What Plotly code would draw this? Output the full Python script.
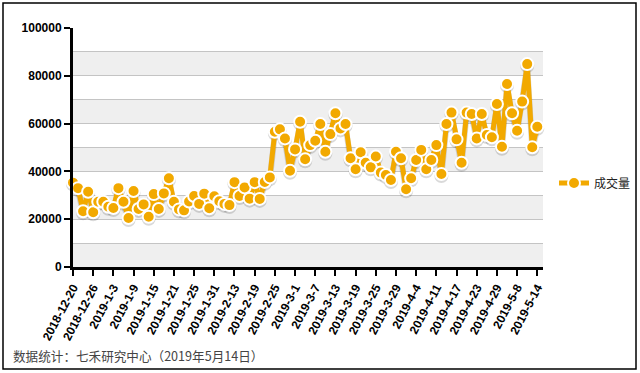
import plotly.graph_objects as go

# ---- data ----
dates = (
    ["2018-12-20", "2018-12-21", "2018-12-24", "2018-12-25", "2018-12-26", "2018-12-27", "2018-12-28"]
    + ["2019-1-%d" % d for d in [2, 3, 4, 7, 8, 9, 10, 11, 14, 15, 16, 17, 18, 21, 22, 23, 24, 25, 28, 29, 30, 31]]
    + ["2019-2-%d" % d for d in [1, 11, 12, 13, 14, 15, 18, 19, 20, 21, 22, 25, 26, 27, 28]]
    + ["2019-3-%d" % d for d in [1, 4, 5, 6, 7, 8, 11, 12, 13, 14, 15, 18, 19, 20, 21, 22, 25, 26, 27, 28, 29]]
    + ["2019-4-%d" % d for d in [1, 2, 3, 4, 8, 9, 10, 11, 12, 15, 16, 17, 18, 19, 22, 23, 24, 25, 26, 29, 30]]
    + ["2019-5-%d" % d for d in [6, 7, 8, 9, 10, 13, 14]]
)

volume = [
    35300, 33000, 23300, 31500, 22900, 27300, 27300, 25200, 24700, 33000,
    27300, 20500, 31800, 24300, 26200, 21000, 30500, 24300, 30800, 37100,
    27300, 24100, 23700, 27400, 29700, 26400, 30700, 24600, 29600, 27500,
    26400, 25900, 35500, 29700, 33300, 28600, 35500, 28500, 35600, 37500,
    56600, 57600, 53800, 40300, 49200, 60800, 45100, 51000, 52800, 59800,
    48200, 55600, 64300, 58000, 59800, 45500, 40900, 48000, 43600, 41700,
    46200, 39500, 38500, 36400, 48200, 45500, 32500, 37100, 44800, 49000,
    40900, 44800, 51000, 38900, 59800, 64600, 53400, 43600, 64600, 64000,
    53800, 64000, 55200, 54300, 68200, 50300, 76600, 64300, 57000, 69200,
    84900, 50100, 58700,
]

tick_labels = dates[::4]
series_name = "成交量"
footer = "数据统计：七禾研究中心（2019年5月14日）"

y_max = 100000
band_step = 10000

# ---- figure ----
W, H = 640, 373
L, R, T, B = 73, 97, 28, 106
pw, ph = W - L - R, H - T - B

def px_x(p):
    return (p - L) / pw

def px_y(p):
    return (H - B - p) / ph

ORANGE = "#F2A900"
shadow_dy = 2.0 * y_max / ph  # ~2 px drop shadow

fig = go.Figure()

# soft drop shadow under the series
fig.add_trace(go.Scatter(
    x=dates, y=[v - shadow_dy for v in volume], mode="lines+markers",
    line=dict(color="rgba(0,0,0,0.15)", width=6),
    marker=dict(color="rgba(0,0,0,0.15)", size=14, line=dict(width=0)),
    cliponaxis=False, showlegend=False, hoverinfo="skip",
))

fig.add_trace(go.Scatter(
    x=dates, y=volume, name=series_name, mode="lines+markers",
    line=dict(color=ORANGE, width=5),
    marker=dict(color=ORANGE, size=12, line=dict(color="white", width=2)),
    cliponaxis=False,
))

shapes = []
# alternating bands
for k in range(0, y_max // band_step):
    if k % 2 == 0:
        shapes.append(dict(type="rect", xref="paper", yref="y", x0=0, x1=1,
                           y0=k * band_step, y1=(k + 1) * band_step,
                           fillcolor="#EFEFEF", line=dict(width=0), layer="below"))
# outer border
shapes.append(dict(type="rect", xref="paper", yref="paper",
                   x0=px_x(3), x1=px_x(636), y0=px_y(369), y1=px_y(3),
                   line=dict(color="black", width=1.5), fillcolor="rgba(0,0,0,0)",
                   layer="above"))

fig.update_layout(
    width=W, height=H,
    margin=dict(l=L, r=R, t=T, b=B, pad=0, autoexpand=False),
    paper_bgcolor="white", plot_bgcolor="white",
    shapes=shapes,
    showlegend=True,
    legend=dict(x=px_x(554), y=px_y(183), xanchor="left", yanchor="middle",
                font=dict(family="Noto Sans CJK SC", size=12, color="#222"),
                itemwidth=30, bgcolor="rgba(0,0,0,0)"),
    annotations=[dict(text=footer, xref="paper", yref="paper",
                      x=px_x(11), y=px_y(355), xanchor="left", yanchor="middle",
                      showarrow=False,
                      font=dict(family="Noto Sans CJK SC", size=12.6, color="#444"))],
    xaxis=dict(
        type="category", range=[0, len(dates) - 1 + 1.13],
        tickvals=tick_labels, ticktext=tick_labels, tickangle=-62,
        showline=True, linecolor="black", linewidth=3,
        ticks="outside", ticklen=6, tickwidth=2, tickcolor="black",
        showgrid=False, zeroline=False,
        tickfont=dict(family="Liberation Sans", size=12, color="black", weight="bold"),
    ),
    yaxis=dict(
        range=[0, y_max], dtick=20000, tick0=0,
        showline=True, linecolor="black", linewidth=3,
        ticks="outside", ticklen=6, tickwidth=2, tickcolor="black",
        showgrid=True, gridcolor="#C4C4C4", gridwidth=1,
        minor=dict(dtick=band_step, showgrid=True, gridcolor="#C4C4C4", gridwidth=1),
        zeroline=False, tickformat="d",
        tickfont=dict(family="Liberation Sans", size=12, color="black", weight="bold"),
    ),
)

fig.write_html(
    "out.html",
    config={"displayModeBar": False},
    post_script="document.body.style.margin='0';document.body.style.padding='0';",
)
